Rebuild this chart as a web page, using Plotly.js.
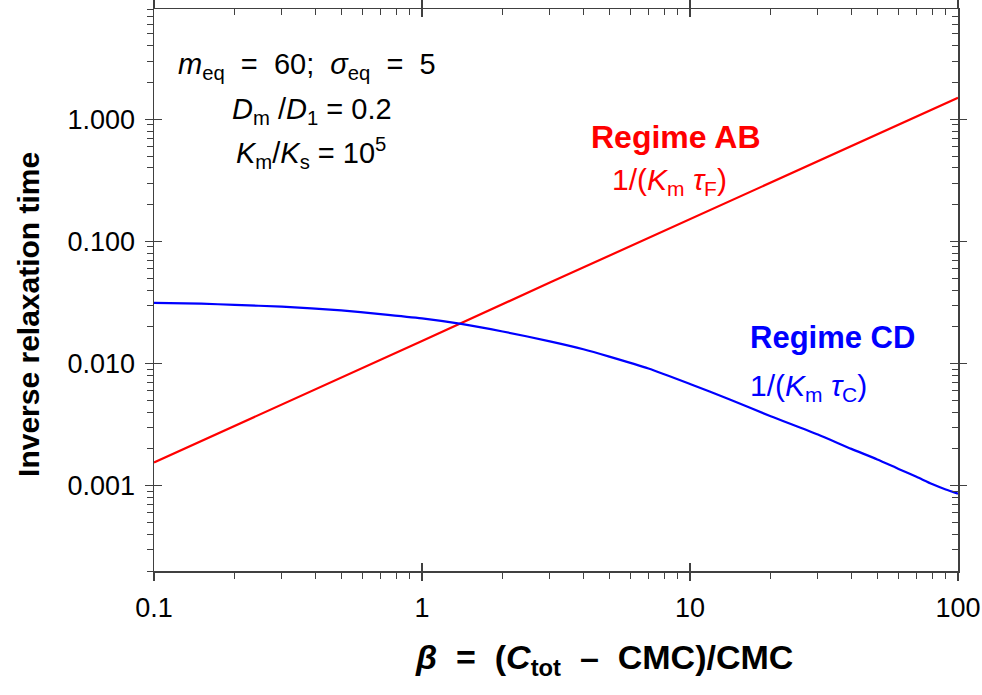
<!DOCTYPE html>
<html>
<head>
<meta charset="utf-8">
<script src="https://cdn.plot.ly/plotly-3.0.1.min.js"></script>
<style>html,body{margin:0;padding:0;background:#fff;}#chart{width:982px;height:695px;}</style>
</head>
<body>
<div id="chart"></div>
<script>
// ---- data ----
const betaRed = [0.1, 0.3, 1, 3, 10, 30, 100];
const invRelaxAB = [0.00155, 0.0046, 0.0153, 0.046, 0.152, 0.455, 1.50];

const betaBlue = [0.1, 0.15, 0.2, 0.3, 0.5, 0.7, 1, 1.4, 2, 3, 4, 5, 7, 10, 14, 20, 30, 40, 50, 60, 70, 80, 90, 100];
const invRelaxCD = [0.0314, 0.0309, 0.0302, 0.0292, 0.0272, 0.0254, 0.0234, 0.0211, 0.0183, 0.0152, 0.0131, 0.0114, 0.0091, 0.0068, 0.0051, 0.0037, 0.00262, 0.00200, 0.00164, 0.00137, 0.00118, 0.00103, 0.00093, 0.00086];

const xTickVals = [0.1, 1, 10, 100];
const xTickText = ["0.1", "1", "10", "100"];
const yTickVals = [0.001, 0.01, 0.1, 1];
const yTickText = ["0.001", "0.010", "0.100", "1.000"];

// minor tick positions (2..9 within each decade)
function minorTicks(decades) {
  const out = [];
  decades.forEach(d => { for (let k = 2; k <= 9; k++) out.push(+(k * d).toPrecision(3)); });
  return out;
}
const xMinor = minorTicks([0.1, 1, 10]);
const yMinor = minorTicks([0.0001, 0.001, 0.01, 0.1, 1]);

const AX = '#404040';
const FONT = 'Arial, "Liberation Sans", sans-serif';
const xRange = [-1, 2];
const yRange = [Math.log10(0.0002), Math.log10(8)];

const traces = [
  {x: betaRed, y: invRelaxAB, mode: 'lines', line: {color: '#ff0000', width: 2.2}, xaxis: 'x', yaxis: 'y', hoverinfo: 'skip'},
  {x: betaBlue, y: invRelaxCD, mode: 'lines', line: {color: '#0000ff', width: 2.2, shape: 'spline', smoothing: 0.6}, xaxis: 'x', yaxis: 'y', hoverinfo: 'skip'},
  {x: [], y: [], xaxis: 'x2', yaxis: 'y2', hoverinfo: 'skip'},
  {x: [], y: [], xaxis: 'x3', yaxis: 'y3', hoverinfo: 'skip'},
  {x: [], y: [], xaxis: 'x4', yaxis: 'y4', hoverinfo: 'skip'}
];

function baseAx(extra) {
  return Object.assign({
    type: 'log', showgrid: false, zeroline: false, tickmode: 'array',
    tickcolor: AX, tickwidth: 1.5, fixedrange: true
  }, extra);
}

function note(text, x, y, size, color, xanchor, extra) {
  return Object.assign({
    xref: 'paper', yref: 'paper', x: x, y: y, xanchor: xanchor || 'center', yanchor: 'middle',
    showarrow: false, text: text, font: {size: size, family: FONT, color: color}
  }, extra || {});
}

const layout = {
  width: 982, height: 695,
  margin: {l: 154, r: 24, t: 9, b: 124},
  paper_bgcolor: '#fff', plot_bgcolor: '#fff',
  showlegend: false,
  font: {family: FONT, color: '#000'},
  xaxis: baseAx({
    range: xRange, tickvals: xTickVals, ticktext: xTickText,
    ticks: 'outside', ticklen: 8, showline: true, linecolor: AX, linewidth: 1.5,
    tickfont: {size: 27, family: FONT, color: '#000'}, ticklabelstandoff: 4,
    minor: {tickmode: 'array', tickvals: xMinor, ticks: 'outside', ticklen: 6, tickcolor: AX, tickwidth: 1},
    anchor: 'y'
  }),
  yaxis: baseAx({
    range: yRange, tickvals: yTickVals, ticktext: yTickText,
    ticks: 'outside', ticklen: 8, showline: true, linecolor: AX, linewidth: 1.5,
    tickfont: {size: 27, family: FONT, color: '#000'}, ticklabelstandoff: 4,
    minor: {tickmode: 'array', tickvals: yMinor, ticks: 'outside', ticklen: 6, tickcolor: AX, tickwidth: 1},
    anchor: 'x'
  }),
  xaxis2: baseAx({
    range: xRange, tickvals: xTickVals, overlaying: 'x', side: 'top', anchor: 'y2',
    ticks: 'inside', ticklen: 8, showticklabels: false, showline: true, linecolor: AX, linewidth: 1.5,
    minor: {tickmode: 'array', tickvals: xMinor, ticks: 'inside', ticklen: 6, tickcolor: AX, tickwidth: 1}
  }),
  yaxis2: baseAx({
    range: yRange, tickvals: yTickVals, overlaying: 'y', side: 'right', anchor: 'x2',
    ticks: 'inside', ticklen: 8, showticklabels: false, showline: true, linecolor: AX, linewidth: 1.5,
    minor: {tickmode: 'array', tickvals: yMinor, ticks: 'inside', ticklen: 6, tickcolor: AX, tickwidth: 1}
  }),
  xaxis3: baseAx({
    range: xRange, tickvals: xTickVals, overlaying: 'x', side: 'bottom', anchor: 'y3',
    ticks: 'inside', ticklen: 8, showticklabels: false, showline: false
  }),
  yaxis3: baseAx({
    range: yRange, tickvals: yTickVals, overlaying: 'y', side: 'left', anchor: 'x3',
    ticks: 'inside', ticklen: 8, showticklabels: false, showline: false
  }),
  xaxis4: baseAx({
    range: xRange, tickvals: xTickVals, overlaying: 'x', side: 'top', anchor: 'y4',
    ticks: 'outside', ticklen: 8, showticklabels: false, showline: false
  }),
  yaxis4: baseAx({
    range: yRange, tickvals: yTickVals, overlaying: 'y', side: 'right', anchor: 'x4',
    ticks: 'outside', ticklen: 8, showticklabels: false, showline: false
  }),
  annotations: [
    note('<b>Inverse relaxation time</b>', -0.157, 0.457, 30, '#000', 'center', {textangle: -90}),
    note('<b><i>β</i>  =  (<i>C</i><sub>tot</sub>  –  CMC)/CMC</b>', 0.56, -0.158, 34, '#000'),
    note('<i>m</i><sub>eq</sub>  =  60;  <i>σ</i><sub>eq</sub>  =  5', 0.19, 0.898, 29, '#000'),
    note('<i>D</i><sub>m</sub> /<i>D</i><sub>1</sub> = 0.2', 0.197, 0.818, 29, '#000'),
    note('<i>K</i><sub>m</sub>/<i>K</i><sub>s</sub> = 10<sup>5</sup>', 0.195, 0.744, 29, '#000'),
    note('<b>Regime AB</b>', 0.649, 0.773, 32, '#ff0000'),
    note('1/(<i>K</i><sub>m</sub> <i>τ</i><sub>F</sub>)', 0.641, 0.693, 30, '#ff0000'),
    note('<b>Regime CD</b>', 0.739, 0.415, 31, '#0000ff', 'left'),
    note('1/(<i>K</i><sub>m</sub> <i>τ</i><sub>C</sub>)', 0.739, 0.327, 30, '#0000ff', 'left')
  ]
};

Plotly.newPlot('chart', traces, layout, {staticPlot: true, displayModeBar: false});
</script>
</body>
</html>
